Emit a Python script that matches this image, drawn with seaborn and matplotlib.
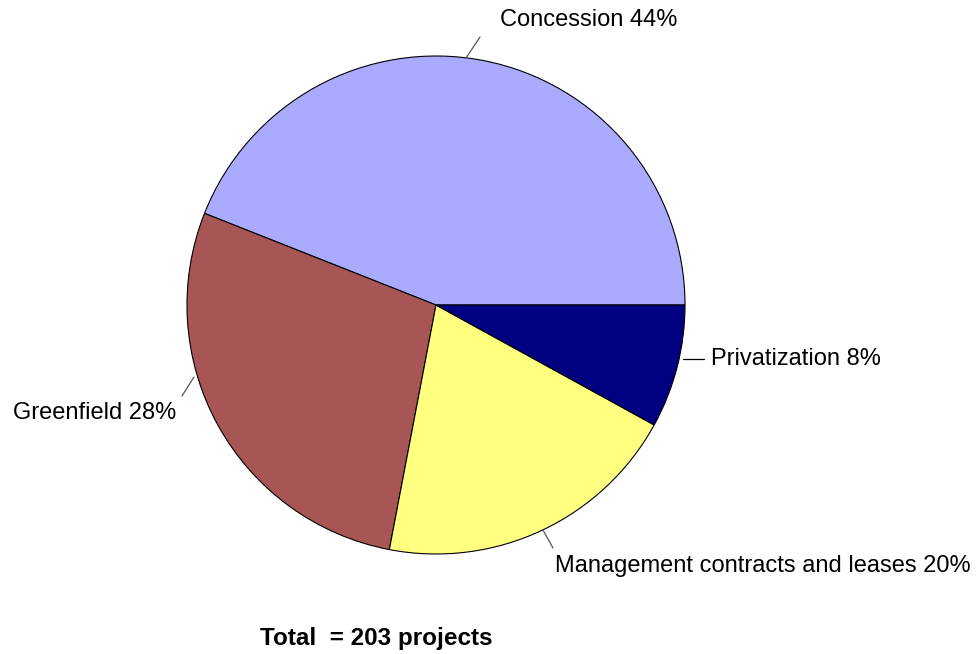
import matplotlib
matplotlib.use("Agg")
import matplotlib.pyplot as plt
import seaborn as sns

# data
categories = ["Concession", "Greenfield", "Management contracts and leases", "Privatization"]
shares = [44, 28, 20, 8]
total_projects = 203
colors = ["#AAAAFF", "#A85555", "#FFFF80", "#000080"]

sns.set_theme(style="white")
plt.rcParams["font.family"] = ["Liberation Sans", "DejaVu Sans"]

W, H = 979, 654
fig = plt.figure(figsize=(W / 100, H / 100), dpi=100)
ax = fig.add_axes([0, 0, 1, 1])

# pie in pixel coordinates (y flipped, so counterclock=False draws CCW on screen)
cx, cy, r = 436, 305, 249
ax.pie(shares, colors=colors, startangle=0, counterclock=False,
       center=(cx, cy), radius=r, frame=True,
       wedgeprops=dict(edgecolor="black", linewidth=0.8))
ax.set_xlim(0, W)
ax.set_ylim(H, 0)
ax.set_aspect("equal")
ax.axis("off")

# labels with leader lines: (text x, text y, line start, line end, line colour)
label_layout = [
    (500, 20, (466, 58), (480, 37), "#555555"),
    (13, 413, (194, 377), (182, 396), "#555555"),
    (555, 566, (543, 530), (553, 548), "#555555"),
    (711, 359, (683, 359), (704, 359), "black"),
]
for name, share, (tx, ty, p0, p1, lc) in zip(categories, shares, label_layout):
    ax.plot([p0[0], p1[0]], [p0[1], p1[1]], color=lc, lw=0.9)
    ax.text(tx, ty, f"{name} {share}%", ha="left", va="center", fontsize=17, color="black")

ax.text(376, 638, f"Total  = {total_projects} projects", ha="center", va="center",
        fontsize=17.5, fontweight="bold", color="black")

fig.savefig("out.png", dpi=100)
